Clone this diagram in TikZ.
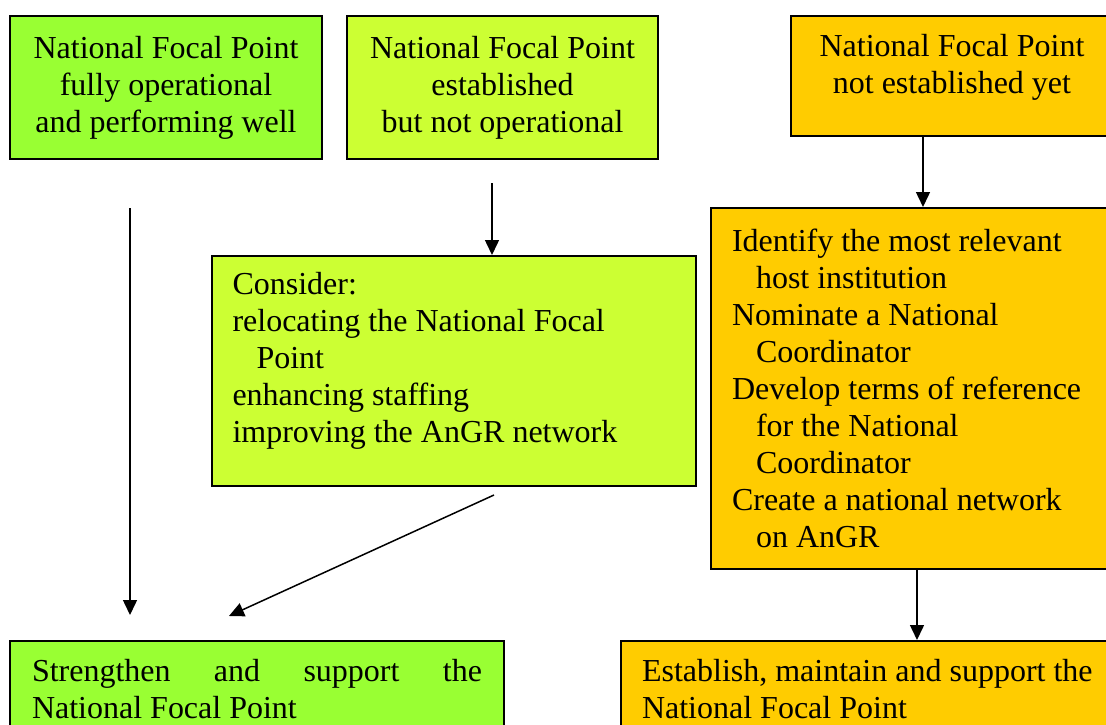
\documentclass[tikz,border=0pt]{standalone}
\usepackage{fontspec}
\setmainfont{Liberation Serif}
\usetikzlibrary{arrows.meta}
\definecolor{okgreen}{HTML}{99FF33}
\definecolor{limegreen}{HTML}{CCFF33}
\definecolor{amber}{HTML}{FFCC00}
\tikzset{
  stagebox/.style={draw=black, line width=2pt, rectangle, inner sep=0pt,
    font=\fontsize{32}{37}\selectfont},
  flow/.style={-{Triangle[length=15pt,width=14pt]}, line width=1.5pt}
}
\begin{document}
\begin{tikzpicture}[x=1pt,y=-1pt]
  \useasboundingbox (0,0) rectangle (1106,725);
  \clip (0,0) rectangle (1106,725);
  % situations
  \node [stagebox, fill=okgreen, minimum width=312pt, minimum height=143pt, align=center] (fully) at (166,87.5) {National Focal Point\\fully operational\\and performing well};
  \node [stagebox, fill=limegreen, minimum width=311pt, minimum height=143pt, align=center] (established) at (502.5,87.5) {National Focal Point\\established\\but not operational};
  \node [stagebox, fill=amber, minimum width=322pt, minimum height=120pt, align=center] (notyet) at (952,76) {National Focal Point\\not established yet\\[-12pt]\mbox{}};
  % actions
  \node [stagebox, fill=limegreen, minimum width=484pt, minimum height=230pt, text width=443pt, align=flush left] (consider) at (454,371) {Consider:\\relocating the National Focal\\\hspace*{24pt}Point\\enhancing staffing\\improving the AnGR network\\[-9pt]\mbox{}};
  \node [stagebox, fill=amber, minimum width=409pt, minimum height=361pt, text width=367pt, align=flush left] (identify) at (915.5,388.5) {Identify the most relevant\\\hspace*{24pt}host institution\\Nominate a National\\\hspace*{24pt}Coordinator\\Develop terms of reference\\\hspace*{24pt}for the National\\\hspace*{24pt}Coordinator\\Create a national network\\\hspace*{24pt}on AnGR};
  % outcomes
  \node [stagebox, fill=okgreen, minimum width=494pt, minimum height=96pt, text width=450pt, align=flush left] (strengthen) at (257,689) {\makebox[450pt]{Strengthen\hfill and\hfill support\hfill the}\\National Focal Point};
  \node [stagebox, fill=amber, minimum width=499pt, minimum height=96pt, text width=457pt, align=flush left] (establish) at (870.5,689) {\makebox[457pt][l]{Establish, maintain and support the}\\National Focal Point};
  % arrows
  \coordinate (fullyOut) at (130,208);
  \coordinate (fullyIn) at (130,615);
  \coordinate (establishedOut) at (492,183);
  \coordinate (considerOut) at (494,495);
  \coordinate (strengthenIn) at (229,616);
  \draw [flow] (fullyOut) -- (fullyIn);
  \draw [flow] (establishedOut) -- (establishedOut |- consider.north);
  \draw [flow] (considerOut) -- (strengthenIn);
  \draw [flow] ([xshift=-29pt]notyet.south) -- ([xshift=7.5pt]identify.north);
  \draw [flow] ([xshift=1.5pt]identify.south) -- ([xshift=1.5pt]identify.south |- establish.north);
\end{tikzpicture}
\end{document}
